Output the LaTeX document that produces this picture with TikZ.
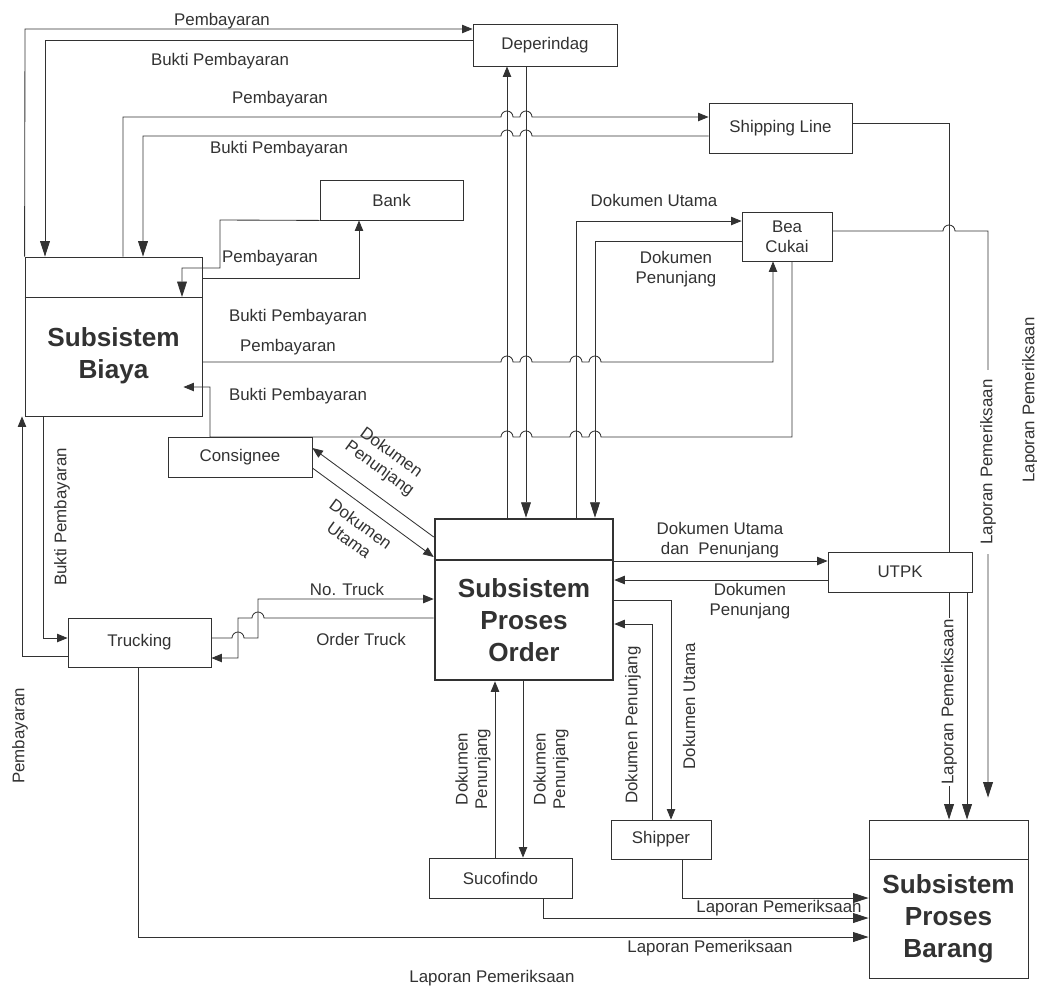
\documentclass[tikz,border=0pt]{standalone}
\usepackage{fontspec}
\setmainfont{Liberation Sans}
\usetikzlibrary{arrows.meta}

\definecolor{ink}{RGB}{50,50,50}
\newcommand{\pxu}{0.025cm}
\newcommand{\lbl}{\fontsize{12}{14}\selectfont}
\newcommand{\ttl}{\fontsize{18.6}{22.7}\selectfont\bfseries}
% little hops where a wire crosses another one
\newcommand{\hopR}[2]{-- (#1-6,#2) arc[start angle=180,end angle=0,radius=6]}
\newcommand{\hopL}[2]{-- (#1+6,#2) arc[start angle=0,end angle=180,radius=6]}

\tikzset{
  box/.style 2 args={draw, rectangle, inner sep=0pt, align=center,
    minimum width=#1*\pxu, minimum height=#2*\pxu},
  ttl/.style={align=center, font=\ttl},
  arr/.style={-{Triangle[length=7.5pt,width=6pt]}},
  bigarr/.style={-{Triangle[length=11pt,width=7pt]}},
  vlbl/.style={rotate=90, align=center},
}

\begin{document}
\begin{tikzpicture}[x=\pxu, y=\pxu, line width=0.6pt, color=ink, font=\lbl]
  \useasboundingbox (0,0) rectangle (1037,-987);

  % outside entities
  \node[box={144}{42}] (dep) at (545,-45) {Deperindag};
  \node[box={143}{50}] (ship) at (780.5,-128) {Shipping Line};
  \node[box={143}{40}] (bank) at (391.5,-200) {Bank};
  \node[box={90}{49}] (bea) at (787,-236.5) {Bea\\Cukai};
  \node[box={144}{40}] (cons) at (240,-457) {Consignee};
  \node[box={144}{40}] (utpk) at (900,-572) {UTPK};
  \node[box={143}{49}] (truck) at (139.5,-642.5) {Trucking};
  \node[box={143}{40}] (suco) at (500.5,-878) {Sucofindo};
  \node[box={100}{39}] (shipper) at (661,-839.5) {Shipper};

  % subsystems
  \node[box={177}{159}] (biaya) at (113.5,-336.5) {};
  \coordinate (biayaDiv) at (113.5,-297);
  \draw (biaya.west |- biayaDiv) -- (biaya.east |- biayaDiv);
  \node[ttl] (biayaT) at (113.5,-356) {Subsistem\\Biaya};

  \node[box={178}{161}, line width=1.8pt] (order) at (524,-599.5) {};
  \draw[line width=1.8pt] (order.west |- 0,-560) -- (order.east |- 0,-560);
  \node[ttl] (orderT) at (524,-620) {Subsistem\\Proses\\Order};

  \node[box={159}{158}] (barang) at (948.5,-899) {};
  \draw (barang.west |- 0,-859) -- (barang.east |- 0,-859);
  \node[ttl] (barangT) at (948.5,-918.5) {Subsistem\\Proses\\Barang};

  % Biaya <-> Deperindag
  \draw[arr] (biaya.north west) -- (25,-29) -- (dep.west |- 0,-29);
  \draw[bigarr] (dep.west |- 0,-40) -- (45,-40) -- (45,0 |- biaya.north);
  \node (tPay1) at (222,-21) {Pembayaran};
  \node (tBukti1) at (220,-61) {Bukti Pembayaran};

  % Biaya <-> Shipping Line
  \draw[arr] (123,0 |- biaya.north) -- (123,-117) \hopR{507}{-117} \hopR{526}{-117}
    -- (ship.west |- 0,-117);
  \draw[bigarr] (ship.west |- 0,-136) \hopL{526}{-136} \hopL{507}{-136} -- (143,-136)
    -- (143,0 |- biaya.north);
  \node (tPay2) at (280,-99) {Pembayaran};
  \node (tBukti2) at (279,-149) {Bukti Pembayaran};

  % Biaya <-> Bank
  \draw[arr] (biaya.east |- 0,-278) -- (359,-278) -- (359,0 |- bank.south);
  \draw[bigarr] (bank.south west) -- (220,-220) -- (220,-268) -- (182,-268)
    -- (182,0 |- biayaDiv);
  \node (tPay3) at (270,-258) {Pembayaran};
  \node (tBukti3) at (298,-317) {Bukti Pembayaran};

  % Biaya <-> Bea Cukai
  \draw[arr] (biaya.east |- 0,-362) \hopR{507}{-362} \hopR{526}{-362} \hopR{576}{-362}
    \hopR{595}{-362} -- (773,-362) -- (773,0 |- bea.south);
  \draw[arr, shorten >=-0.475cm] (792,0 |- bea.south) -- (792,-437) \hopL{595}{-437}
    \hopL{576}{-437} \hopL{526}{-437} \hopL{507}{-437} -- (210,-437) -- (210,-387)
    -- (biaya.east |- 0,-387);
  \node (tPay4) at (288,-347) {Pembayaran};
  \node (tBukti4) at (298,-396) {Bukti Pembayaran};

  % Deperindag <-> Order
  \draw[arr] (507,0 |- order.north) -- (507,0 |- dep.south);
  \draw[bigarr] (526,0 |- dep.south) -- (526,0 |- order.north);

  % Order <-> Bea Cukai
  \draw[arr] (576,0 |- order.north) -- (576,-221) -- (bea.west |- 0,-221);
  \draw[bigarr] (bea.west |- 0,-241) -- (595,-241) -- (595,0 |- order.north);
  \node (tDokU1) at (654,-200) {Dokumen Utama};
  \node[align=center] (tDokP1) at (676,-269) {Dokumen\\Penunjang};

  % reports from Shipping Line, Bea Cukai and UTPK
  \draw (ship.east |- 0,-123) -- (949,-123) -- (949,0 |- utpk.north);
  \draw[bigarr, shorten >=0.55cm] (bea.east |- 0,-231) \hopR{949}{-231} -- (988,-231)
    -- (988,0 |- barang.north);
  \node[vlbl, fill=white, inner xsep=7pt, inner ysep=1pt] (tLap1) at (988,-462)
    {Laporan Pemeriksaan};
  \draw[bigarr] (949,0 |- utpk.south) -- (949,0 |- barang.north);
  \node[vlbl, fill=white, inner xsep=1pt, inner ysep=1pt] (tLap2) at (949,-702)
    {Laporan Pemeriksaan};
  \draw[bigarr] (967,0 |- utpk.south) -- (967,0 |- barang.north);
  \node[vlbl] (tLap3) at (1030,-400) {Laporan Pemeriksaan};

  % Order <-> UTPK
  \draw[arr] (order.east |- 0,-561) -- (utpk.west |- 0,-561);
  \draw[arr] (utpk.west |- 0,-580) -- (order.east |- 0,-580);
  \node[align=center] (tDokUP) at (720,-540) {Dokumen Utama\\dan\ \ Penunjang};
  \node[align=center] (tDokP2) at (750,-601) {Dokumen\\Penunjang};

  % Order <-> Shipper
  \draw[arr] (order.east |- 0,-600) -- (671,-600) -- (671,0 |- shipper.north);
  \draw[arr] (652,0 |- shipper.north) -- (652,-624) -- (order.east |- 0,-624);
  \node[vlbl] (tDokU3) at (689,-706) {Dokumen Utama};
  \node[vlbl] (tDokP3) at (633,-725) {Dokumen Penunjang};

  % Order <-> Sucofindo
  \draw[arr] (495,0 |- suco.north) -- (495,0 |- order.south);
  \draw[arr] (523,0 |- order.south) -- (523,0 |- suco.north);
  \node[vlbl] (tDokP4) at (473,-769) {Dokumen\\Penunjang};
  \node[vlbl] (tDokP5) at (551,-769) {Dokumen\\Penunjang};

  % reports to Barang along the bottom
  \draw[bigarr] (682,0 |- shipper.south) -- (682,-898) -- (barang.west |- 0,-898);
  \draw[bigarr] (543,0 |- suco.south) -- (543,-918) -- (barang.west |- 0,-918);
  \draw[bigarr] (138,0 |- truck.south) -- (138,-937) -- (barang.west |- 0,-937);
  \node (tLap4) at (779,-908) {Laporan Pemeriksaan};
  \node (tLap5) at (710,-948) {Laporan Pemeriksaan};
  \node (tLap6) at (492,-978) {Laporan Pemeriksaan};

  % Biaya <-> Trucking
  \draw[arr] (truck.west |- 0,-656) -- (22,-656) -- (22,0 |- biaya.south);
  \draw[arr] (43,0 |- biaya.south) -- (43,-638) -- (truck.west |- 0,-638);
  \node[vlbl] (tPay5) at (20,-736) {Pembayaran};
  \node[vlbl] (tBukti5) at (62,-517) {Bukti Pembayaran};

  % Trucking <-> Order
  \draw[arr] (truck.east |- 0,-638) \hopR{238}{-638} -- (258,-638) -- (258,-599)
    -- (order.west |- 0,-599);
  \draw[arr] (order.west |- 0,-618) \hopL{258}{-618} -- (238,-618) -- (238,-658)
    -- (truck.east |- 0,-658);
  \node (tNoTr) at (347,-589) {No. Truck};
  \node (tOrdTr) at (361,-639) {Order Truck};

  % Consignee <-> Order
  \draw[arr] (order.west |- 0,-537) -- (cons.east |- 0,-448);
  \draw[arr] (cons.east |- 0,-468) -- (order.west |- 0,-557);
  \node[align=center, rotate=-36] (tDokP6) at (385,-461) {Dokumen\\Penunjang};
  \node[align=center, rotate=-36] (tDokU6) at (355,-532) {Dokumen\\Utama};
\end{tikzpicture}
\end{document}
